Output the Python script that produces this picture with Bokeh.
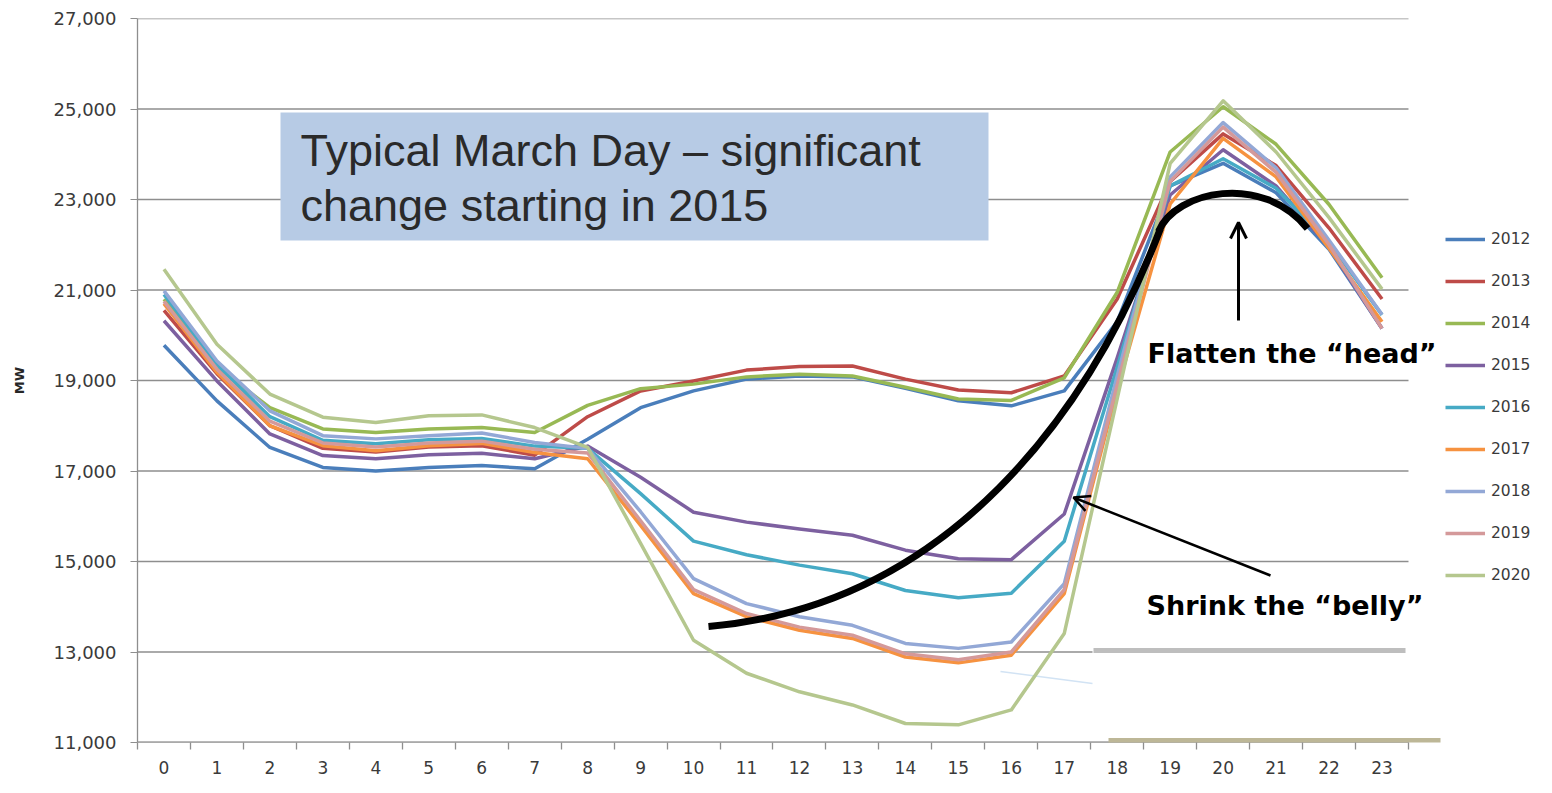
from bokeh.plotting import figure
from bokeh.models import Range1d, FixedTicker, NumeralTickFormatter, Legend, LegendItem, Arrow, OpenHead
from bokeh.core.properties import value
from bokeh.embed import file_html
from bokeh.resources import INLINE

# ---------------- data ----------------
hours = list(range(24))
hour_labels = [str(h) for h in hours]
y_ticks = [11000, 13000, 15000, 17000, 19000, 21000, 23000, 25000, 27000]
years = ["2012", "2013", "2014", "2015", "2016", "2017", "2018", "2019", "2020"]
colors = ["#4A7EBB", "#BE4B48", "#98B954", "#7D60A0", "#46AAC5",
          "#F69240", "#93A8D6", "#D4999A", "#B5C78E"]

mw_2012 = [19780, 18550, 17520, 17080, 17000, 17080, 17120, 17050, 17700, 18400, 18770, 19030,
           19100, 19080, 18830, 18550, 18440, 18770, 20300, 23300, 23800, 23150, 21900, 20150]
mw_2013 = [20550, 19150, 18000, 17500, 17420, 17530, 17560, 17350, 18200, 18770, 18990, 19230,
           19310, 19320, 19030, 18790, 18730, 19100, 20800, 23400, 24450, 23750, 22370, 20800]
mw_2014 = [20800, 19300, 18400, 17930, 17850, 17930, 17960, 17850, 18450, 18820, 18920, 19080,
           19140, 19100, 18850, 18590, 18560, 19060, 20950, 24050, 25050, 24220, 22890, 21270]
mw_2015 = [20320, 18990, 17820, 17340, 17270, 17360, 17390, 17270, 17550, 16860, 16090, 15870,
           15720, 15580, 15250, 15060, 15040, 16050, 19500, 23100, 24100, 23300, 21950, 20150]
mw_2016 = [20900, 19350, 18200, 17680, 17600, 17690, 17720, 17550, 17500, 16500, 15450, 15150,
           14920, 14730, 14360, 14200, 14300, 15450, 19300, 23300, 23900, 23250, 22050, 20450]
mw_2017 = [20700, 19180, 18000, 17560, 17450, 17560, 17610, 17410, 17270, 15800, 14290, 13780,
           13480, 13300, 12890, 12760, 12930, 14290, 18800, 22900, 24350, 23500, 21920, 20300]
mw_2018 = [20980, 19430, 18330, 17780, 17710, 17780, 17840, 17630, 17500, 16100, 14620, 14070,
           13780, 13590, 13190, 13080, 13220, 14510, 19100, 23500, 24700, 23700, 22100, 20460]
mw_2019 = [20750, 19250, 18100, 17620, 17530, 17620, 17660, 17480, 17400, 15900, 14380, 13850,
           13550, 13370, 12960, 12830, 13000, 14380, 18900, 23400, 24600, 23600, 22000, 20150]
mw_2020 = [21460, 19800, 18700, 18190, 18070, 18220, 18240, 17960, 17520, 15400, 13260, 12530,
           12120, 11830, 11420, 11390, 11720, 13410, 18600, 23800, 25180, 24050, 22600, 21020]
series = [mw_2012, mw_2013, mw_2014, mw_2015, mw_2016, mw_2017, mw_2018, mw_2019, mw_2020]

# ---------------- figure ----------------
W, H = 1536, 777
LEFT, TOP, BOTTOM = 137, 18, 35
PX_PER_H = 52.958
X_MIN, X_MAX_AXIS = -0.5, 23.5
X_MAX = X_MIN + (W - LEFT) / PX_PER_H
Y_MIN, Y_MAX = 11000, 27000

p = figure(width=W, height=H, output_backend="svg", toolbar_location=None,
           x_range=Range1d(X_MIN, X_MAX), y_range=Range1d(Y_MIN, Y_MAX),
           min_border_left=LEFT, min_border_right=0, min_border_top=TOP, min_border_bottom=BOTTOM)
p.outline_line_color = None
p.background_fill_color = "white"
p.border_fill_color = "white"
p.xgrid.visible = False
p.ygrid.visible = False

# picture-pixel helpers for annotation placement (frame: x 137..1408 for -0.5..23.5, y 18..742)
def xd(px):
    return (px - LEFT) / PX_PER_H - 0.5

def yd(py):
    return Y_MAX - (py - TOP) * (Y_MAX - Y_MIN) / 724

GRID = "#8E8E8E"
# horizontal gridlines only across the category area
p.segment(x0=[X_MIN] * len(y_ticks), y0=y_ticks, x1=[X_MAX_AXIS] * len(y_ticks), y1=y_ticks,
          line_color=GRID, line_width=1.3)
p.segment(x0=[X_MIN], y0=[Y_MIN], x1=[X_MAX_AXIS], y1=[Y_MIN], line_color=GRID, line_width=2)

# y axis
p.yaxis.ticker = FixedTicker(ticks=y_ticks)
p.yaxis.formatter = NumeralTickFormatter(format="0,0")
p.yaxis.axis_line_color = GRID
p.yaxis.axis_line_width = 1.3
p.yaxis.major_tick_line_color = GRID
p.yaxis.major_tick_out = 7
p.yaxis.major_tick_in = 0
p.yaxis.minor_tick_line_color = None
p.yaxis.major_label_text_font = "DejaVu Sans"
p.yaxis.major_label_text_font_size = "18px"
p.yaxis.major_label_text_color = "#3A3A3A"
p.yaxis.major_label_standoff = 14
p.yaxis.axis_label = "MW"
p.yaxis.axis_label_text_font = "DejaVu Sans"
p.yaxis.axis_label_text_font_style = "bold"
p.yaxis.axis_label_text_font_size = "13px"
p.yaxis.axis_label_text_color = "#262626"
p.yaxis.axis_label_standoff = 24

# x axis (category style: labels at centres, tick marks at boundaries)
p.xaxis.ticker = FixedTicker(ticks=hours, minor_ticks=[h - 0.5 for h in hours] + [23.5])
p.xaxis.major_label_overrides = {h: lab for h, lab in zip(hours, hour_labels)}
p.xaxis.axis_line_color = None
p.xaxis.major_tick_line_color = None
p.xaxis.major_tick_out = 0
p.xaxis.major_tick_in = 0
p.xaxis.minor_tick_line_color = GRID
p.xaxis.minor_tick_line_width = 1.3
p.xaxis.minor_tick_out = 7
p.xaxis.minor_tick_in = 0
p.xaxis.major_label_text_font = "DejaVu Sans"
p.xaxis.major_label_text_font_size = "17px"
p.xaxis.major_label_text_color = "#3A3A3A"
p.xaxis.major_label_standoff = 11

# pasted-over patch at lower right
p.quad(left=[xd(1092)], right=[xd(1450)], top=[yd(623)], bottom=[yd(738)],
       fill_color="white", line_color=None)
p.segment(x0=[xd(1093)], y0=[yd(650)], x1=[xd(1405)], y1=[yd(650)],
          line_color="#BEBEBE", line_width=5)
p.segment(x0=[xd(1108)], y0=[yd(740)], x1=[xd(1440)], y1=[yd(740)],
          line_color="#BDB797", line_width=5)
p.segment(x0=[xd(1092)], y0=[yd(683)], x1=[xd(1000)], y1=[yd(671)],
          line_color="#D2E3F4", line_width=1.5)

# title box
p.quad(left=[xd(280)], right=[xd(988)], top=[yd(112)], bottom=[yd(240)],
       fill_color="#B7CBE5", line_color=None)
p.text(x=[xd(300), xd(300)], y=[yd(150), yd(205)],
       text=["Typical March Day \u2013 significant", "change starting in 2015"],
       text_font=value("Liberation Sans"), text_font_size="45px", text_color="#2A2A2A",
       text_align="left", text_baseline="middle")

# series
items = []
for yr, col, vals in zip(years, colors, series):
    r = p.line(hours, vals, line_color=col, line_width=3.5, line_join="round")
    items.append(LegendItem(label=yr, renderers=[r]))

# black "duck" curve
p.bezier(x0=[xd(708)], y0=[yd(626)], x1=[xd(1160)], y1=[yd(228)],
         cx0=[xd(950)], cy0=[yd(605)], cx1=[xd(1090)], cy1=[yd(410)],
         line_color="black", line_width=7)
p.bezier(x0=[xd(1158)], y0=[yd(231)], x1=[xd(1307)], y1=[yd(228)],
         cx0=[xd(1175)], cy0=[yd(190)], cx1=[xd(1262)], cy1=[yd(172)],
         line_color="black", line_width=7)

# arrows + annotation texts
p.add_layout(Arrow(end=OpenHead(size=16, line_width=3, line_color="black"),
                   x_start=xd(1238), y_start=yd(320), x_end=xd(1238), y_end=yd(222),
                   line_width=3, line_color="black"))
p.add_layout(Arrow(end=OpenHead(size=16, line_width=2.5, line_color="black"),
                   x_start=xd(1270), y_start=yd(575), x_end=xd(1073), y_end=yd(497),
                   line_width=2.5, line_color="black"))
p.text(x=[xd(1147), xd(1146)], y=[yd(353), yd(605)],
       text=["Flatten the \u201chead\u201d", "Shrink the \u201cbelly\u201d"],
       text_font=value("DejaVu Sans"), text_font_style="bold", text_font_size="27px",
       text_color="black", text_align="left", text_baseline="middle")

# legend
legend = Legend(items=items, location=(1308, 157))
legend.padding = 0
legend.margin = 0
legend.spacing = 22
legend.label_height = 20
legend.glyph_height = 20
legend.glyph_width = 40
legend.label_standoff = 6
legend.border_line_color = None
legend.background_fill_alpha = 0
legend.label_text_font = "DejaVu Sans"
legend.label_text_font_size = "15.5px"
legend.label_text_color = "#3A3A3A"
p.add_layout(legend)

open("out.html", "w").write(file_html(p, INLINE))
